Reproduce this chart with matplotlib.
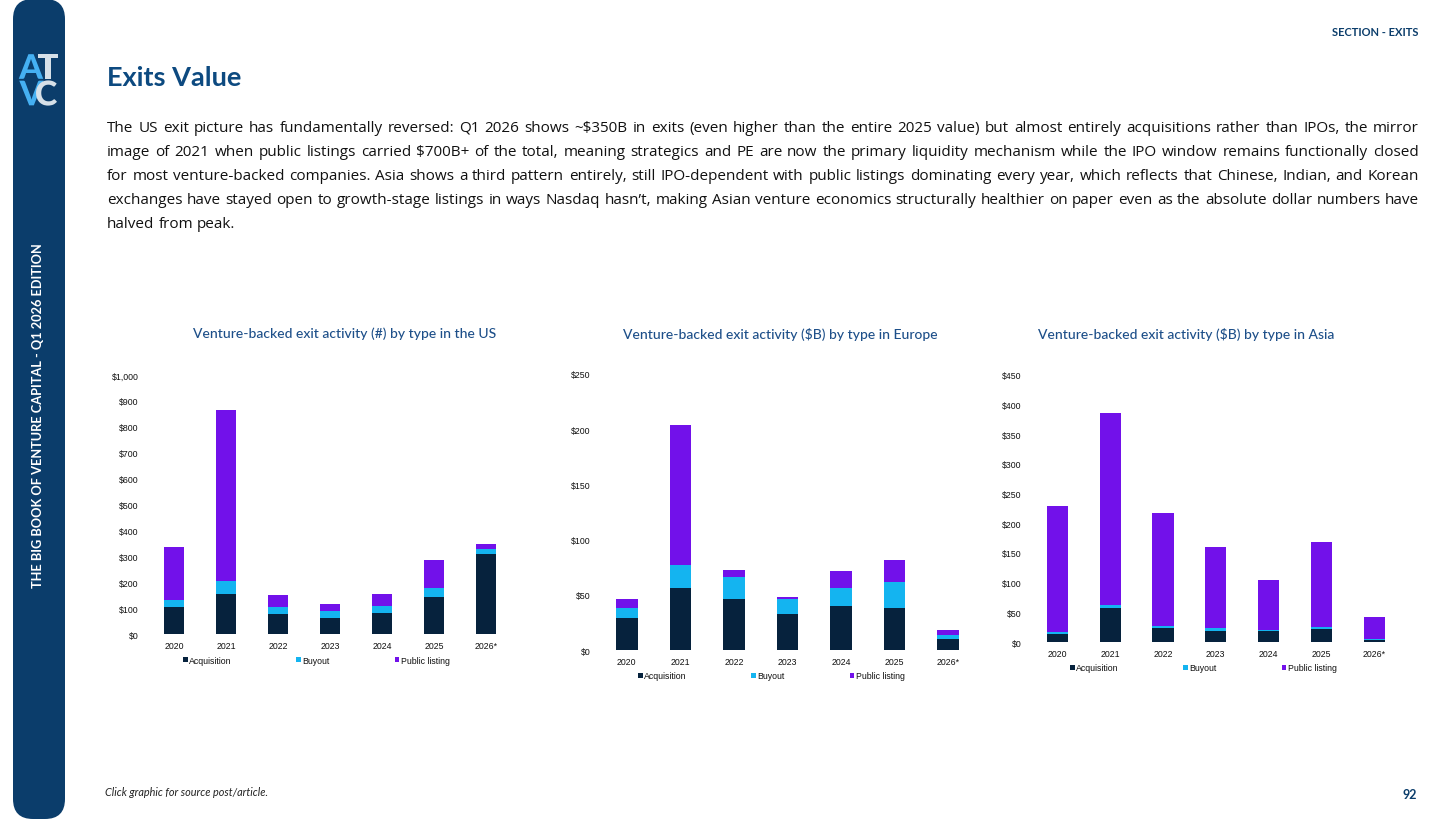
import matplotlib
matplotlib.use("Agg")
import matplotlib.pyplot as plt
from matplotlib.patches import FancyBboxPatch, PathPatch
from matplotlib.transforms import IdentityTransform, Affine2D
from matplotlib.textpath import TextPath
from matplotlib.font_manager import FontProperties
from matplotlib.ticker import FuncFormatter, MultipleLocator

# ---------------- data ----------------
years = ["2020", "2021", "2022", "2023", "2024", "2025", "2026*"]
series_names = ["Acquisition", "Buyout", "Public listing"]

us_acq = [105, 153, 78, 62, 83, 142, 310]
us_buy = [27, 52, 28, 25, 27, 36, 17]
us_pub = [204, 658, 44, 30, 44, 108, 19]

eu_acq = [29, 56, 46.3, 32.7, 40, 38.1, 10.3]
eu_buy = [9.4, 20.6, 19.4, 13.6, 16, 23.3, 3.3]
eu_pub = [7.9, 127.4, 6.9, 1.8, 16, 19.7, 4.9]

as_acq = [13.5, 56.7, 23, 19, 18, 21.3, 3.9]
as_buy = [2.8, 5.6, 3.4, 4, 2.8, 4, 1.2]
as_pub = [212.7, 322.7, 191.3, 137.5, 83, 143, 37.6]

titles = ["Venture-backed exit activity (#) by type in the US",
          "Venture-backed exit activity ($B) by type in Europe",
          "Venture-backed exit activity ($B) by type in Asia"]

body_lines = [
    "The US exit picture has fundamentally reversed: Q1 2026 shows ~$350B in exits (even higher than the entire 2025 value) but almost entirely acquisitions rather than IPOs, the mirror",
    "image of 2021 when public listings carried $700B+ of the total, meaning strategics and PE are now the primary liquidity mechanism while the IPO window remains functionally closed",
    "for most venture-backed companies. Asia shows a third pattern entirely, still IPO-dependent with public listings dominating every year, which reflects that Chinese, Indian, and Korean",
    "exchanges have stayed open to growth-stage listings in ways Nasdaq hasn\u2019t, making Asian venture economics structurally healthier on paper even as the absolute dollar numbers have",
    "halved from peak.",
]

# ---------------- style ----------------
W, H = 1456, 820
C_ACQ = "#06223d"
C_BUY = "#14b4f0"
C_PUB = "#7211ea"
NAVY = "#0b3d6b"
TITLE_BLUE = "#1d4f89"
SLIDE_FONT = ["Lato", "DejaVu Sans"]
BODY_FONT = ["Open Sans", "DejaVu Sans"]
CHART_FONT = ["Liberation Sans", "DejaVu Sans"]

fig = plt.figure(figsize=(W / 100, H / 100), dpi=100)
fig.patch.set_facecolor("white")


def fx(x):
    return x / W


def fy(y):
    return 1 - y / H


# sidebar
side = FancyBboxPatch((13, 0), 52, 820, boxstyle="round,pad=0,rounding_size=20",
                      transform=IdentityTransform(), facecolor=NAVY, edgecolor="none")
fig.add_artist(side)

# logo (drawn as glyph outlines)
logo_prop = FontProperties(family="Lato", weight="black")
for ch, x, y, col in [("A", 31, 67.5, "#45b0f2"), ("T", 48, 67.5, "#d6e0e8"),
                      ("V", 31.5, 94, "#45b0f2"), ("C", 46.5, 94, "#d6e0e8")]:
    tp = TextPath((0, 0), ch, size=34, prop=logo_prop)
    ext = tp.get_extents()
    cx = (ext.x0 + ext.x1) / 2
    cy = (ext.y0 + ext.y1) / 2
    tr = Affine2D().translate(-cx, -cy).translate(x, H - y)
    fig.add_artist(PathPatch(tr.transform_path(tp), transform=IdentityTransform(),
                             facecolor=col, edgecolor="none"))

fig.text(fx(38), fy(416), "THE BIG BOOK OF VENTURE CAPITAL - Q1 2026 EDITION",
         rotation=90, ha="center", va="center", color="white", fontsize=9.2,
         fontweight="bold", family=SLIDE_FONT, parse_math=False)

fig.text(fx(1419), fy(33), "SECTION - EXITS", ha="right", va="center", color=NAVY,
         fontsize=8, fontweight="bold", family=SLIDE_FONT)
fig.text(fx(107), fy(78), "Exits Value", ha="left", va="center", color="#0d4a80",
         fontsize=19.5, fontweight="bold", family=SLIDE_FONT)
fig.text(fx(105), fy(793), "Click graphic for source post/article.", ha="left", va="center",
         color="#222222", fontsize=7.8, style="italic", family=SLIDE_FONT)
fig.text(fx(1410), fy(795), "92", ha="center", va="center", color=NAVY,
         fontsize=9, fontweight="bold", family=SLIDE_FONT)

# justified body text
renderer = fig.canvas.get_renderer()
x0, x1 = 107, 1419
line_base = [132, 156, 180, 204, 228]


def measure(word, fs):
    t = fig.text(0, 0, word, fontsize=fs, family=BODY_FONT, parse_math=False)
    w = t.get_window_extent(renderer).width
    t.remove()
    return w


body_fs = 11.0
for _ in range(3):
    need = 0
    for line in body_lines[:-1]:
        ws = line.split(" ")
        tot = sum(measure(w, body_fs) for w in ws) + (len(ws) - 1) * body_fs * 100 / 72 * 0.2
        need = max(need, tot)
    if need <= (x1 - x0):
        break
    body_fs *= (x1 - x0) / need * 0.995

for i, line in enumerate(body_lines):
    words = line.split(" ")
    txts = []
    widths = []
    for w in words:
        t = fig.text(0, fy(line_base[i]), w, ha="left", va="baseline", color="#111111",
                     fontsize=body_fs, family=BODY_FONT, parse_math=False)
        widths.append(t.get_window_extent(renderer).width)
        txts.append(t)
    if i < len(body_lines) - 1:
        gap = (x1 - x0 - sum(widths)) / (len(words) - 1)
    else:
        gap = measure("a a", body_fs) - measure("aa", body_fs)
    x = x0
    for t, wd in zip(txts, widths):
        t.set_x(fx(x))
        x += wd + gap

# ---------------- charts ----------------
charts = [
    dict(data=(us_acq, us_buy, us_pub), box=(148, 512, 376, 635), ymax=1000, step=100,
         title_x=345, leg_x=183, leg_y=661),
    dict(data=(eu_acq, eu_buy, eu_pub), box=(600, 975, 375, 651), ymax=250, step=50,
         title_x=780, leg_x=638, leg_y=677),
    dict(data=(as_acq, as_buy, as_pub), box=(1031, 1400.5, 375.7, 643), ymax=450, step=50,
         title_x=1186, leg_x=1070, leg_y=669),
]


def money(v, pos):
    return "${:,.0f}".format(v)


for k, c in enumerate(charts):
    l, r, t, b = c["box"]
    ax = fig.add_axes([fx(l), fy(b), fx(r - l), (b - t) / H])
    acq, buy, pub = c["data"]
    xs = list(range(len(years)))
    bottoms2 = [a + bb for a, bb in zip(acq, buy)]
    h1 = ax.bar(xs, acq, width=0.4, color=C_ACQ, label=series_names[0])
    h2 = ax.bar(xs, buy, width=0.4, bottom=acq, color=C_BUY, label=series_names[1])
    h3 = ax.bar(xs, pub, width=0.4, bottom=bottoms2, color=C_PUB, label=series_names[2])
    ax.set_xlim(-0.5, len(years) - 0.5)
    ax.set_ylim(0, c["ymax"])
    ax.yaxis.set_major_locator(MultipleLocator(c["step"]))
    ax.yaxis.set_major_formatter(FuncFormatter(money))
    ax.set_xticks(xs)
    ax.set_xticklabels(years)
    for s in ax.spines.values():
        s.set_visible(False)
    ax.tick_params(axis="both", length=0, labelsize=6.3, colors="#111111")
    ax.tick_params(axis="y", pad=7)
    ax.tick_params(axis="x", pad=5)
    for lab in ax.get_xticklabels() + ax.get_yticklabels():
        lab.set_family(CHART_FONT)
    ax.patch.set_alpha(0)

    fig.text(fx(c["title_x"]), fy(334), titles[k], ha="center", va="center",
             color=TITLE_BLUE, fontsize=10, fontweight="medium", family=SLIDE_FONT,
             parse_math=False)

    leg = fig.legend(handles=[h1, h2, h3], labels=series_names, loc="center left",
                     bbox_to_anchor=(fx(c["leg_x"]), fy(c["leg_y"])), ncol=3,
                     frameon=False, borderpad=0, borderaxespad=0, handlelength=0.55,
                     handleheight=0.55, handletextpad=0.15, columnspacing=7.4,
                     prop=dict(family=CHART_FONT, size=6.3))
    for txt in leg.get_texts():
        txt.set_color("#111111")

fig.savefig("out.png", dpi=100, facecolor="white")
